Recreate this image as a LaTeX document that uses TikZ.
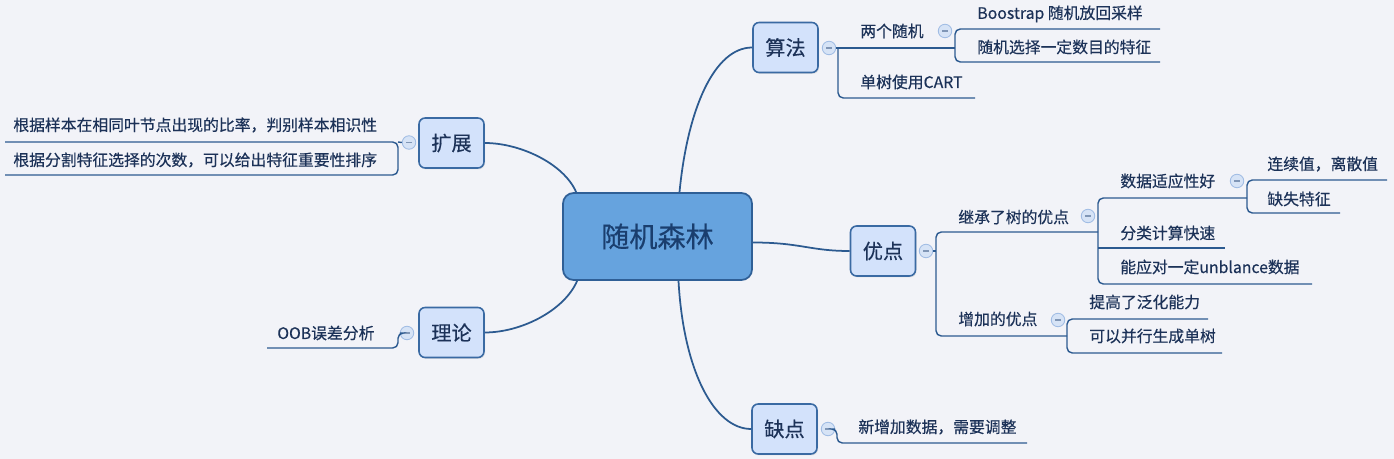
\documentclass[tikz,border=0pt]{standalone}
\usepackage{fontspec}
\usepackage{tikz}
\usetikzlibrary{calc,
	positioning,
	shadows}
\newfontfamily\cjk[FakeBold=0.4]{Noto Sans CJK SC}
\definecolor{bg}{RGB}{242,243,248}
\definecolor{ink}{RGB}{28,50,88}
\definecolor{rootink}{RGB}{26,62,110}
\definecolor{wire}{RGB}{44,90,144}
\definecolor{rootfill}{RGB}{102,163,222}
\definecolor{rootline}{RGB}{47,95,150}
\definecolor{topicfill}{RGB}{211,226,251}
\definecolor{topicline}{RGB}{58,106,163}
\definecolor{foldfill}{RGB}{214,227,246}
\definecolor{foldline}{RGB}{160,188,228}
\tikzstyle{root}=[draw=rootline, fill=rootfill, line width=1pt, rounded corners=6pt,
	minimum width=3.78cm, minimum height=1.74cm, inner sep=0, text=rootink,
	font=\cjk\fontsize{16}{18}\selectfont]
\tikzstyle{topic}=[draw=topicline, fill=topicfill, line width=0.9pt, rounded corners=3.5pt,
	minimum width=1.3cm, minimum height=1cm, inner sep=0, text=ink,
	drop shadow={shadow xshift=0.6pt, shadow yshift=-0.8pt, fill=black!18},
	font=\cjk\fontsize{11.5}{13}\selectfont]
\tikzstyle{leaf}=[anchor=west, inner sep=0, text=ink, font=\cjk\fontsize{9}{11}\selectfont]
\tikzstyle{fold}=[circle, draw=foldline, fill=foldfill, line width=0.5pt, minimum size=0.27cm,
	inner sep=0, path picture={\draw[foldline!80!black, line width=0.6pt]
	([xshift=-1.6pt]path picture bounding box.center) --
	([xshift=1.6pt]path picture bounding box.center);}]
\tikzstyle{branch}=[draw=wire, line width=1pt]
\tikzstyle{twig}=[draw=wire, line width=0.8pt, rounded corners=3pt]

\begin{document}
\begin{tikzpicture}[x=0.02cm, y=-0.02cm]
            \fill[bg] (0,0) rectangle (1394,459);
            \useasboundingbox (0,0) rectangle (1394,459);
            \node[root] (rf) at (657.5,236.5) {随机森林};
            \node[topic] (suanfa) at (785.5,47.5) {算法};
            \node[topic] (kuozhan) at (451.5,143) {扩展};
            \node[topic] (youdian) at (883,251) {优点};
            \node[topic] (lilun) at (451.5,332.5) {理论};
            \node[topic] (quedian) at (784.5,429) {缺点};
            \node[fold] (f1) at (829,48) {};
            \node[fold] (f2) at (409,142.5) {};
            \node[fold] (f3) at (926,251) {};
            \node[fold] (f4) at (407,333) {};
            \node[fold] (f5) at (828,429) {};
            \node[fold] (f11) at (945,31) {};
            \node[fold] (f31) at (1088,216) {};
            \node[fold] (f311) at (1237,181) {};
            \node[fold] (f32) at (1058,320) {};
            \node[leaf] (t1) at (860,31) {两个随机};
            \node[leaf] (t11) at (977,14) {Boostrap 随机放回采样};
            \node[leaf] (t12) at (977,47) {随机选择一定数目的特征};
            \node[leaf] (t2) at (860,82) {单树使用CART};
            \node[leaf] (k1) at (13,125) {根据样本在相同叶节点出现的比率，判别样本相识性};
            \node[leaf] (k2) at (13,160) {根据分割特征选择的次数，可以给出特征重要性排序};
            \node[leaf] (y1) at (958,217) {继承了树的优点};
            \node[leaf] (y11) at (1120,181) {数据适应性好};
            \node[leaf] (y111) at (1267,164) {连续值，离散值};
            \node[leaf] (y112) at (1267,199) {缺失特征};
            \node[leaf] (y12) at (1120,233) {分类计算快速};
            \node[leaf] (y13) at (1120,267) {能应对一定unblance数据};
            \node[leaf] (y2) at (958,319) {增加的优点};
            \node[leaf] (y21) at (1089,302) {提高了泛化能力};
            \node[leaf] (y22) at (1089,336) {可以并行生成单树};
            \node[leaf] (l1) at (277,333) {OOB误差分析};
            \node[leaf] (q1) at (858,427) {新增加数据，需要调整};
            \coordinate (j1) at (838,48);
            \coordinate (u1) at (955,48);
            \coordinate (u2) at (975,98);
            \coordinate (u11) at (1160,29);
            \coordinate (u12) at (1160,62);
            \coordinate (j2) at (398,142);
            \coordinate (k1e) at (5,142);
            \coordinate (k2e) at (5,175);
            \coordinate (j3) at (936,251);
            \coordinate (u3) at (1098,232);
            \coordinate (u4) at (1067,336);
            \coordinate (u5) at (1247,198);
            \coordinate (u6) at (1225,248);
            \coordinate (u7) at (1312,284);
            \coordinate (u8) at (1387,180);
            \coordinate (u9) at (1340,213);
            \coordinate (u10) at (1208,319);
            \coordinate (u13) at (1222,353);
            \coordinate (j4) at (398,333);
            \coordinate (u14) at (267,348);
            \coordinate (j5) at (837,429);
            \coordinate (u15) at (1027,443);
            \draw[branch] ($(rf.north)+(22,0)$) .. controls +(8,-83) and +(-38,0) .. (suanfa.west);
            \draw[branch] ($(rf.north west)+(14,0)$) .. controls +(-12,-28) and +(36,0) .. (kuozhan.east);
            \draw[branch] ($(rf.south west)+(15,0)$) .. controls +(-13,30) and +(36,0) .. (lilun.east);
            \draw[branch] ($(rf.south)+(21,0)$) .. controls +(5,90) and +(-37,0) .. (quedian.west);
            \draw[branch] ($(rf.east)+(0,6)$) .. controls +(48,0) and +(-40,0) .. (youdian.west);
            \draw[twig] (f1.east) -- (u1);
            \draw[twig] (j1) |- (u2);
            \draw[twig] (u11) -| (u1) |- (u12);
            \draw[twig] (f2.west) -- (j2);
            \draw[twig] (k1e) -- (j2) |- (k2e);
            \draw[twig] (f3.east) -- (j3);
            \draw[twig] (u3) -| (j3) |- (u4);
            \draw[twig] (u5) -| (u3) |- (u7);
            \draw[twig] (u3 |- u6) -- (u6);
            \draw[twig] (u8) -| (u5) |- (u9);
            \draw[twig] (u10) -| (u4) |- (u13);
            \draw[twig] (f4.west) -- (j4) |- (u14);
            \draw[twig] (f5.east) -- (j5) |- (u15);
        \end{tikzpicture}
\end{document}
